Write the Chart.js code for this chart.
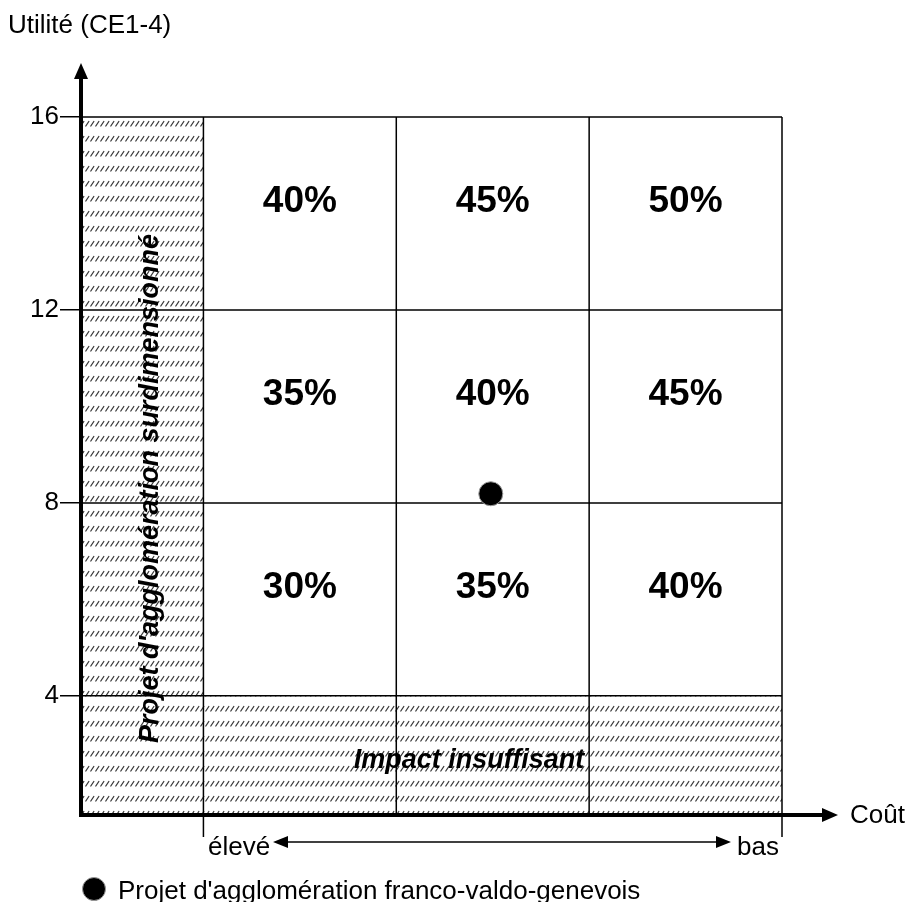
<!DOCTYPE html>
<html>
<head>
<meta charset="utf-8">
<script src="https://cdn.jsdelivr.net/npm/chart.js@4"></script>
<style>
    body { margin: 0; background: #fff; }
    #wrap { width: 908px; height: 902px; position: relative; }
</style>
</head>
<body>
<div id="wrap"><canvas id="matrixChart"></canvas></div>
<script>
// valeurs du graphique
const yTicks = [4, 8, 12, 16];
const colBounds = [0, 1, 2, 3];          // colonnes de coût (élevé -> bas)
const rowBounds = [4, 8, 12, 16];        // lignes d'utilité
const cellLabels = [                     // de bas en haut
    ["30%", "35%", "40%"],
    ["35%", "40%", "45%"],
    ["40%", "45%", "50%"],
];
const projectPoint = [{ x: 1.49, y: 8.19 }];
const xRange = [-0.64, 3];
const yRange = [1.53, 16];

const FONT = "'Liberation Sans', Arial, sans-serif";

// motif hachuré
function makeHatch(ctx) {
    const c = document.createElement("canvas");
    c.width = 5;
    c.height = 15;
    const p = c.getContext("2d");
    p.strokeStyle = "#3a3a3a";
    p.lineWidth = 1.3;
    p.lineCap = "round";
    p.beginPath();
    p.moveTo(0.8, 6);
    p.lineTo(3.8, 1.5);
    p.stroke();
    return ctx.createPattern(c, "repeat");
}

const matrixPlugin = {
    id: "matrix",
    beforeDatasetsDraw(chart) {
        const ctx = chart.ctx;
        const x = chart.scales.x, y = chart.scales.y;
        const area = chart.chartArea;
        const px = v => x.getPixelForValue(v);
        const py = v => y.getPixelForValue(v);
        ctx.save();

        // zones hachurées
        ctx.fillStyle = makeHatch(ctx);
        ctx.fillRect(area.left, py(yRange[1]), px(colBounds[0]) - area.left, area.bottom - py(yRange[1]));
        ctx.fillRect(px(colBounds[0]), py(rowBounds[0]), px(colBounds[3]) - px(colBounds[0]), area.bottom - py(rowBounds[0]));

        // grille
        ctx.strokeStyle = "#000";
        ctx.lineWidth = 1.5;
        ctx.beginPath();
        rowBounds.forEach(v => {
            ctx.moveTo(area.left, py(v));
            ctx.lineTo(px(colBounds[3]), py(v));
        });
        colBounds.forEach((v, i) => {
            const ext = (i === 0 || i === colBounds.length - 1) ? 22 : 0;
            ctx.moveTo(px(v), py(rowBounds[3]));
            ctx.lineTo(px(v), area.bottom + ext);
        });
        ctx.stroke();

        // pourcentages
        ctx.fillStyle = "#000";
        ctx.textAlign = "center";
        ctx.textBaseline = "alphabetic";
        ctx.font = "bold 37px " + FONT;
        cellLabels.forEach((row, r) => {
            row.forEach((txt, c) => {
                ctx.fillText(txt, px(colBounds[c] + 0.5), py(rowBounds[r + 1]) + 95);
            });
        });

        // textes des zones
        ctx.font = "italic bold 27px " + FONT;
        ctx.fillText("Impact insuffisant", 469, 768);
        ctx.save();
        ctx.translate(158, 743);
        ctx.rotate(-Math.PI / 2);
        ctx.textAlign = "left";
        ctx.fillText("Projet d'agglomération surdimensionné", 0, 0);
        ctx.restore();

        // axes avec flèches
        const ax = area.left + 1, ay = area.bottom;
        ctx.lineWidth = 4;
        ctx.beginPath();
        ctx.moveTo(ax, ay + 2);
        ctx.lineTo(ax, 76);
        ctx.moveTo(ax - 2, ay);
        ctx.lineTo(824, ay);
        ctx.stroke();
        ctx.beginPath();
        ctx.moveTo(ax, 63);
        ctx.lineTo(ax - 7, 79);
        ctx.lineTo(ax + 7, 79);
        ctx.closePath();
        ctx.moveTo(838, ay);
        ctx.lineTo(822, ay - 7);
        ctx.lineTo(822, ay + 7);
        ctx.closePath();
        ctx.fill();

        // double flèche coût
        ctx.lineWidth = 1.5;
        ctx.beginPath();
        ctx.moveTo(285, 842);
        ctx.lineTo(718, 842);
        ctx.stroke();
        ctx.beginPath();
        ctx.moveTo(273, 842);
        ctx.lineTo(288, 836);
        ctx.lineTo(288, 848);
        ctx.closePath();
        ctx.moveTo(731, 842);
        ctx.lineTo(716, 836);
        ctx.lineTo(716, 848);
        ctx.closePath();
        ctx.fill();

        // libellés
        ctx.font = "26px " + FONT;
        ctx.textAlign = "left";
        ctx.fillText("Utilité (CE1-4)", 8, 33);
        ctx.fillText("élevé", 208, 855);
        ctx.fillText("bas", 737, 855);
        ctx.textBaseline = "middle";
        ctx.fillText("Coût", 850, ay + 1);

        // légende
        ctx.beginPath();
        ctx.arc(94, 889, 11.5, 0, Math.PI * 2);
        ctx.fillStyle = "#000";
        ctx.fill();
        ctx.strokeStyle = "#999";
        ctx.lineWidth = 1;
        ctx.stroke();
        ctx.fillStyle = "#000";
        ctx.textBaseline = "alphabetic";
        ctx.fillText(chart.data.datasets[0].label, 118, 899);

        ctx.restore();
    },
};

let matrixCan = document.getElementById("matrixChart").getContext("2d");
var matrixChart = new Chart(matrixCan, {
    type: "scatter",
    data: {
        datasets: [{
            label: "Projet d'agglomération franco-valdo-genevois",
            data: projectPoint,
            backgroundColor: "#000",
            borderColor: "#999",
            borderWidth: 1,
            pointRadius: 12,
            pointHoverRadius: 12,
        }, ],
    },
    options: {
        responsive: true,
        maintainAspectRatio: false,
        animation: false,
        events: [],
        layout: {
            padding: { top: 117, right: 126, bottom: 87, left: 0 },
        },
        scales: {
            x: {
                type: "linear",
                min: xRange[0],
                max: xRange[1],
                display: false,
            },
            y: {
                type: "linear",
                min: yRange[0],
                max: yRange[1],
                afterBuildTicks: scale => {
                    scale.ticks = yTicks.map(v => ({ value: v }));
                },
                afterFit: scale => {
                    scale.width = 80;
                },
                border: { display: false },
                grid: {
                    drawOnChartArea: false,
                    drawTicks: true,
                    tickLength: 20,
                    color: "#000",
                    lineWidth: 1.5,
                },
                ticks: {
                    color: "#000",
                    padding: 1,
                    font: { family: FONT, size: 26 },
                },
            },
        },
        plugins: {
            legend: { display: false },
            tooltip: { enabled: false },
        },
    },
    plugins: [matrixPlugin],
});
</script>
</body>
</html>
